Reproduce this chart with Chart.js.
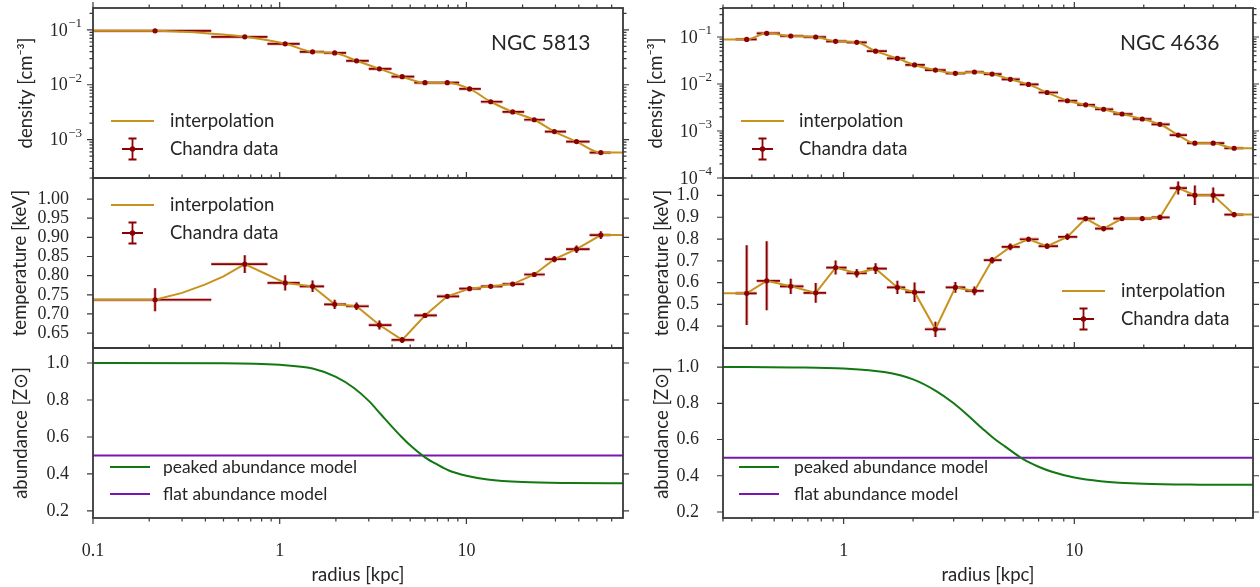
<!DOCTYPE html>
<html>
<head>
<meta charset="utf-8">
<script src="https://cdn.jsdelivr.net/npm/chart.js@4.4.0/dist/chart.umd.min.js"></script>
<style>
  html, body { margin: 0; padding: 0; background: #fff; }
  #wrap { position: relative; width: 1260px; height: 587px; }
  #wrap canvas { position: absolute; left: 0; top: 0; }
</style>
</head>
<body>
<div id="wrap">
  <canvas id="dens5813" width="1260" height="587"></canvas>
  <canvas id="dens4636" width="1260" height="587"></canvas>
  <canvas id="temp5813" width="1260" height="587"></canvas>
  <canvas id="temp4636" width="1260" height="587"></canvas>
  <canvas id="abun5813" width="1260" height="587"></canvas>
  <canvas id="abun4636" width="1260" height="587"></canvas>
</div>
<script>
// ---- NGC 5813 (left column) ----
var r5813 = [0.215, 0.65, 1.07, 1.5, 1.97, 2.58, 3.42, 4.53, 6.0, 7.9, 10.4, 13.5, 17.7, 23.1, 29.6, 38.9, 52.5];
var edges5813 = [0, 0.43, 0.86, 1.28, 1.73, 2.27, 3.0, 3.97, 5.26, 6.95, 9.15, 11.95, 15.6, 20.4, 26.3, 34.2, 45.7, 59.3];
var dens5813 = [0.096, 0.0746, 0.0557, 0.0398, 0.0380, 0.0273, 0.0195, 0.0140, 0.0109, 0.0109, 0.0084, 0.0049, 0.0032, 0.0023, 0.0014, 0.00092, 0.00058];
var temp5813 = [0.737, 0.830, 0.781, 0.772, 0.725, 0.720, 0.671, 0.632, 0.696, 0.746, 0.766, 0.772, 0.778, 0.803, 0.843, 0.869, 0.906];
var tErr5813 = [0.030, 0.023, 0.020, 0.015, 0.012, 0.010, 0.012, 0.008, 0.006, 0.005, 0.004, 0.004, 0.005, 0.005, 0.008, 0.010, 0.010];
// interpolation curve read between the first two bins
var curveR5813 = [0.3, 0.4, 0.5];
var curveDens5813 = [0.092, 0.087, 0.082];
var curveTemp5813 = [0.755, 0.777, 0.798];
var peakR5813 = [0.1, 0.5, 1.0, 1.5, 2.0, 2.5, 3.0, 3.5, 4.0, 4.5, 5.0, 6.0, 7.0, 8.0, 10, 13, 20, 35, 69];
var peakZ5813 = [1.0, 0.999, 0.99, 0.97, 0.925, 0.865, 0.795, 0.72, 0.655, 0.60, 0.555, 0.49, 0.45, 0.42, 0.39, 0.37, 0.356, 0.351, 0.35];

// ---- NGC 4636 (right column) ----
var r4636 = [0.38, 0.464, 0.59, 0.757, 0.923, 1.14, 1.376, 1.71, 2.03, 2.5, 3.05, 3.69, 4.4, 5.28, 6.33, 7.62, 9.33, 11.2, 13.4, 16.1, 19.7, 23.5, 28.2, 33.3, 40, 49.3];
var edges4636 = [0.34, 0.42, 0.53, 0.67, 0.84, 1.03, 1.26, 1.54, 1.85, 2.25, 2.77, 3.37, 4.05, 4.84, 5.8, 7.0, 8.5, 10.3, 12.3, 14.75, 17.9, 21.6, 25.9, 30.8, 36.7, 44.7, 54];
var dens4636 = [0.089, 0.12, 0.105, 0.10, 0.081, 0.077, 0.050, 0.035, 0.0254, 0.0198, 0.0169, 0.018, 0.0163, 0.0126, 0.0098, 0.0066, 0.0044, 0.0036, 0.0029, 0.0023, 0.0018, 0.00139, 0.00082, 0.00055, 0.00055, 0.00043];
var temp4636 = [0.551, 0.608, 0.583, 0.553, 0.669, 0.643, 0.664, 0.578, 0.556, 0.386, 0.578, 0.562, 0.703, 0.764, 0.799, 0.767, 0.810, 0.894, 0.848, 0.894, 0.894, 0.899, 1.034, 1.001, 1.001, 0.912];
var tErrHi4636 = [0.220, 0.182, 0.035, 0.045, 0.032, 0.020, 0.025, 0.030, 0.045, 0.035, 0.025, 0.020, 0.015, 0.015, 0.012, 0.012, 0.015, 0.012, 0.012, 0.010, 0.010, 0.012, 0.030, 0.045, 0.035, 0.012];
var tErrLo4636 = [0.146, 0.135, 0.035, 0.045, 0.032, 0.020, 0.025, 0.030, 0.045, 0.035, 0.025, 0.020, 0.015, 0.015, 0.012, 0.012, 0.015, 0.012, 0.012, 0.010, 0.010, 0.012, 0.030, 0.045, 0.035, 0.012];
var peakR4636 = [0.3, 0.6, 1.0, 1.5, 2.0, 2.5, 3.0, 3.5, 4.0, 4.5, 5.0, 6.0, 7.0, 8.0, 10, 13, 20, 35, 60];
var peakZ4636 = [1.0, 0.998, 0.992, 0.972, 0.932, 0.87, 0.80, 0.727, 0.66, 0.604, 0.562, 0.492, 0.45, 0.422, 0.39, 0.37, 0.356, 0.351, 0.35];

var flatZ = 0.5;

// tick labels
var xTicks5813 = [0.1, 1, 10];
var xTicks4636 = [1, 10];
var densTicks5813 = [0.001, 0.01, 0.1];
var densTicks4636 = [0.0001, 0.001, 0.01, 0.1];
var tempTicks5813 = [0.65, 0.70, 0.75, 0.80, 0.85, 0.90, 0.95, 1.00];
var tempTicks4636 = [0.4, 0.5, 0.6, 0.7, 0.8, 0.9, 1.0];
var abunTicks = [0.2, 0.4, 0.6, 0.8, 1.0];

var GOLD = '#c8921e', RED = '#8b0000', GREEN = '#127812', PURPLE = '#7a16b0';
var FRAME = '#383838', TXT = '#262626';
var SANS = "Lato, 'Open Sans', sans-serif";
var SERIF = "'Liberation Serif', 'DejaVu Serif', serif";

function pts(xs, ys) {
  return xs.map(function (x, i) { return { x: x, y: ys[i] }; });
}
function interpLine(xMin, xMax, r, v, extraR, extraV) {
  var p = pts(r, v).concat(pts(extraR || [], extraV || []));
  p.push({ x: xMin, y: v[0] }, { x: xMax, y: v[v.length - 1] });
  return p.sort(function (a, b) { return a.x - b.x; });
}
function logMarks(min, max) {
  var out = [];
  for (var e = Math.floor(Math.log10(min)) - 1; e <= Math.ceil(Math.log10(max)); e++) {
    for (var m = 1; m < 10; m++) {
      var v = m * Math.pow(10, e);
      if (v >= min * 0.9999 && v <= max * 1.0001) out.push({ v: v, major: m === 1 });
    }
  }
  return out;
}

// frame, outward ticks, error bars, legends and panel titles
var decor = {
  id: 'decor',
  beforeDatasetsDraw: function (chart, args, o) {
    if (!o.err) return;
    var ctx = chart.ctx, xs = chart.scales.x, ys = chart.scales.y, a = chart.chartArea, e = o.err;
    ctx.save();
    ctx.beginPath();
    ctx.rect(a.left, a.top, a.right - a.left, a.bottom - a.top);
    ctx.clip();
    [[3.4, 'rgba(139,0,0,0.28)'], [1.7, RED]].forEach(function (pass) {
      ctx.lineWidth = pass[0];
      ctx.strokeStyle = pass[1];
      ctx.beginPath();
      for (var i = 0; i < e.r.length; i++) {
        var y = ys.getPixelForValue(e.v[i]);
        var x = xs.getPixelForValue(e.r[i]);
        ctx.moveTo(xs.getPixelForValue(Math.max(e.edges[i], xs.min)), y);
        ctx.lineTo(xs.getPixelForValue(e.edges[i + 1]), y);
        if (e.hi) {
          ctx.moveTo(x, ys.getPixelForValue(e.v[i] - e.lo[i]));
          ctx.lineTo(x, ys.getPixelForValue(e.v[i] + e.hi[i]));
        }
      }
      ctx.stroke();
    });
    ctx.restore();
  },
  afterDraw: function (chart, args, o) {
    var ctx = chart.ctx, xs = chart.scales.x, ys = chart.scales.y, a = chart.chartArea;
    ctx.save();
    ctx.strokeStyle = FRAME;
    ctx.lineWidth = 1.2;
    ctx.beginPath();
    logMarks(xs.min, xs.max).forEach(function (t) {
      var x = xs.getPixelForValue(t.v), len = t.major ? 6 : 3.5;
      ctx.moveTo(x, a.top); ctx.lineTo(x, a.top - len);
      if (o.bottomTicks) { ctx.moveTo(x, a.bottom); ctx.lineTo(x, a.bottom + len); }
    });
    var yt = o.yLog ? logMarks(ys.min, ys.max) : ys.ticks.map(function (t) { return { v: t.value, major: true }; });
    yt.forEach(function (t) {
      var y = ys.getPixelForValue(t.v), len = t.major ? 6 : 3.5;
      ctx.moveTo(a.left, y); ctx.lineTo(a.left - len, y);
      ctx.moveTo(a.right, y); ctx.lineTo(a.right + len, y);
    });
    ctx.stroke();
    ctx.lineWidth = 1.8;
    ctx.strokeRect(a.left, a.top, a.right - a.left, a.bottom - a.top);

    ctx.fillStyle = TXT;
    ctx.textBaseline = 'middle';
    // power-of-ten labels with a raised exponent
    if (o.yLog) {
      ctx.textAlign = 'right';
      ys.ticks.forEach(function (t) {
        var y = ys.getPixelForValue(t.value);
        var exp = '\u2212' + String(-Math.round(Math.log10(t.value)));
        var xr = a.left - 11;
        ctx.font = '13px ' + SERIF;
        var we = ctx.measureText(exp).width;
        ctx.fillText(exp, xr, y - 6);
        ctx.font = '18px ' + SERIF;
        ctx.fillText('10', xr - we - 0.5, y + 1);
      });
      ctx.textAlign = 'left';
    }
    if (o.title) {
      ctx.font = '21px ' + SANS;
      ctx.fillText(o.title.text, o.title.x, o.title.y);
    }
    (o.legend || []).forEach(function (it) {
      ctx.lineCap = 'butt';
      if (it.kind === 'line') {
        ctx.strokeStyle = it.color;
        ctx.lineWidth = 2;
        ctx.beginPath();
        ctx.moveTo(it.x0, it.y); ctx.lineTo(it.x1, it.y);
        ctx.stroke();
      } else {
        var cx = (it.x0 + it.x1) / 2;
        ctx.strokeStyle = RED;
        ctx.lineWidth = 1.8;
        ctx.beginPath();
        ctx.moveTo(it.x0, it.y); ctx.lineTo(it.x1, it.y);
        ctx.moveTo(cx, it.y - 10.5); ctx.lineTo(cx, it.y + 10.5);
        ctx.moveTo(cx - 4, it.y - 10.5); ctx.lineTo(cx + 4, it.y - 10.5);
        ctx.moveTo(cx - 4, it.y + 10.5); ctx.lineTo(cx + 4, it.y + 10.5);
        ctx.stroke();
        ctx.fillStyle = RED;
        ctx.beginPath(); ctx.arc(cx, it.y, 2.7, 0, Math.PI * 2); ctx.fill();
      }
      ctx.fillStyle = TXT;
      ctx.font = it.size + 'px ' + SANS;
      ctx.fillText(it.text, it.tx, it.y);
    });
    ctx.restore();
  }
};

function panel(id, p) {
  var xAxis = {
    type: 'logarithmic', min: p.xMin, max: p.xMax, display: !!p.xTicks,
    grid: { display: false }, border: { display: false },
    afterBuildTicks: function (s) { if (p.xTicks) s.ticks = p.xTicks.map(function (v) { return { value: v }; }); },
    afterFit: function (s) {
      s.height = p.xTicks ? 69 : 0;
      s.paddingLeft = 0; s.paddingRight = 0;
    },
    ticks: {
      autoSkip: false, maxRotation: 0, padding: 14, color: TXT,
      font: { family: SERIF, size: 18 },
      callback: function (v) { return String(v); }
    },
    title: { display: true, text: 'radius [kpc]', color: TXT, font: { family: SANS, size: 18.5 }, padding: { top: 0, bottom: 1 } }
  };
  var yAxis = {
    type: p.yLog ? 'logarithmic' : 'linear', min: p.yMin, max: p.yMax,
    grid: { display: false }, border: { display: false },
    afterBuildTicks: function (s) { s.ticks = p.yTicks.map(function (v) { return { value: v }; }); },
    afterFit: function (s) {
      s.width = 84;
      s.paddingTop = 0; s.paddingBottom = 0;
    },
    ticks: {
      display: !p.yLog, autoSkip: false, padding: 16, color: TXT,
      font: { family: SERIF, size: 18 },
      callback: function (v) { return v.toFixed(p.dec); }
    },
    title: { display: true, text: p.yTitle, color: TXT, font: { family: SANS, size: 18.5 }, padding: { top: p.titlePad, bottom: 0 } }
  };
  return new Chart(document.getElementById(id), {
    type: 'line',
    data: { datasets: p.datasets },
    options: {
      responsive: false,
      animation: false,
      events: [],
      layout: { padding: p.pad },
      plugins: { legend: { display: false }, tooltip: { enabled: false }, decor: p.decor },
      scales: { x: xAxis, y: yAxis }
    },
    plugins: [decor]
  });
}

function markers(r, v) {
  return { data: pts(r, v), showLine: false, pointRadius: 2.6, pointBackgroundColor: RED, pointBorderWidth: 0 };
}
function curve(data, color, smooth) {
  return {
    data: data, borderColor: color, borderWidth: 2, pointRadius: 0, fill: false,
    cubicInterpolationMode: smooth ? 'monotone' : 'default', tension: 0
  };
}
function dataLegend(x0, tx, y, size) {
  return [
    { kind: 'line', color: GOLD, x0: x0, x1: x0 + 43, y: y, tx: tx, text: 'interpolation', size: size },
    { kind: 'err', x0: x0 + 11, x1: x0 + 32, y: y + 28, tx: tx, text: 'Chandra data', size: size }
  ];
}
function abunLegend(x0, tx, y) {
  return [
    { kind: 'line', color: GREEN, x0: x0, x1: x0 + 40, y: y, tx: tx, text: 'peaked abundance model', size: 17.4 },
    { kind: 'line', color: PURPLE, x0: x0, x1: x0 + 40, y: y + 27, tx: tx, text: 'flat abundance model', size: 17.4 }
  ];
}

var LX = { xMin: 0.1, xMax: 69 }, RX = { xMin: 0.3, xMax: 59.5 };
var padL = function (t, b) { return { left: 9, right: 637, top: t, bottom: b }; };
var padR = function (t, b) { return { left: 639, right: 7, top: t, bottom: b }; };

panel('dens5813', {
  xMin: LX.xMin, xMax: LX.xMax, yLog: true, yMin: 2.0e-4, yMax: 0.25, yTicks: densTicks5813,
  yTitle: 'density [cm\u207b\u00b3]', titlePad: 6, pad: padL(8, 409),
  datasets: [markers(r5813, dens5813), curve(interpLine(LX.xMin, LX.xMax, r5813, dens5813, curveR5813, curveDens5813), GOLD, true)],
  decor: { yLog: true, err: { r: r5813, v: dens5813, edges: edges5813 },
    title: { text: 'NGC 5813', x: 491, y: 43 }, legend: dataLegend(111, 170, 121, 18.5) }
});
panel('dens4636', {
  xMin: RX.xMin, xMax: RX.xMax, yLog: true, yMin: 1.0e-4, yMax: 0.414, yTicks: densTicks4636,
  yTitle: 'density [cm\u207b\u00b3]', titlePad: 6, pad: padR(8, 409),
  datasets: [markers(r4636, dens4636), curve(interpLine(RX.xMin, RX.xMax, r4636, dens4636), GOLD, true)],
  decor: { yLog: true, err: { r: r4636, v: dens4636, edges: edges4636 },
    title: { text: 'NGC 4636', x: 1120, y: 43 }, legend: dataLegend(741, 799, 121, 18.5) }
});
panel('temp5813', {
  xMin: LX.xMin, xMax: LX.xMax, yMin: 0.611, yMax: 1.055, yTicks: tempTicks5813, dec: 2,
  yTitle: 'temperature [keV]', titlePad: 0, pad: padL(178, 239),
  datasets: [markers(r5813, temp5813), curve(interpLine(LX.xMin, LX.xMax, r5813, temp5813, curveR5813, curveTemp5813), GOLD, false)],
  decor: { err: { r: r5813, v: temp5813, edges: edges5813, hi: tErr5813, lo: tErr5813 },
    legend: dataLegend(111, 170, 205, 18.5) }
});
panel('temp4636', {
  xMin: RX.xMin, xMax: RX.xMax, yMin: 0.30, yMax: 1.08, yTicks: tempTicks4636, dec: 1,
  yTitle: 'temperature [keV]', titlePad: 12, pad: padR(178, 239),
  datasets: [markers(r4636, temp4636), curve(interpLine(RX.xMin, RX.xMax, r4636, temp4636), GOLD, false)],
  decor: { err: { r: r4636, v: temp4636, edges: edges4636, hi: tErrHi4636, lo: tErrLo4636 },
    legend: dataLegend(1062, 1121, 291, 18.5) }
});
panel('abun5813', {
  xMin: LX.xMin, xMax: LX.xMax, yMin: 0.162, yMax: 1.081, yTicks: abunTicks, dec: 1, xTicks: xTicks5813,
  yTitle: 'abundance [Z\u2299]', titlePad: 1, pad: padL(348, 0),
  datasets: [
    curve(pts(peakR5813, peakZ5813), GREEN, true),
    curve(pts([LX.xMin, LX.xMax], [flatZ, flatZ]), PURPLE, false)
  ],
  decor: { bottomTicks: true, legend: abunLegend(110, 163, 467) }
});
panel('abun4636', {
  xMin: RX.xMin, xMax: RX.xMax, yMin: 0.167, yMax: 1.105, yTicks: abunTicks, dec: 1, xTicks: xTicks4636,
  yTitle: 'abundance [Z\u2299]', titlePad: 12, pad: padR(348, 0),
  datasets: [
    curve(pts(peakR4636, peakZ4636), GREEN, true),
    curve(pts([RX.xMin, RX.xMax], [flatZ, flatZ]), PURPLE, false)
  ],
  decor: { bottomTicks: true, legend: abunLegend(739, 794, 467) }
});
</script>
</body>
</html>
